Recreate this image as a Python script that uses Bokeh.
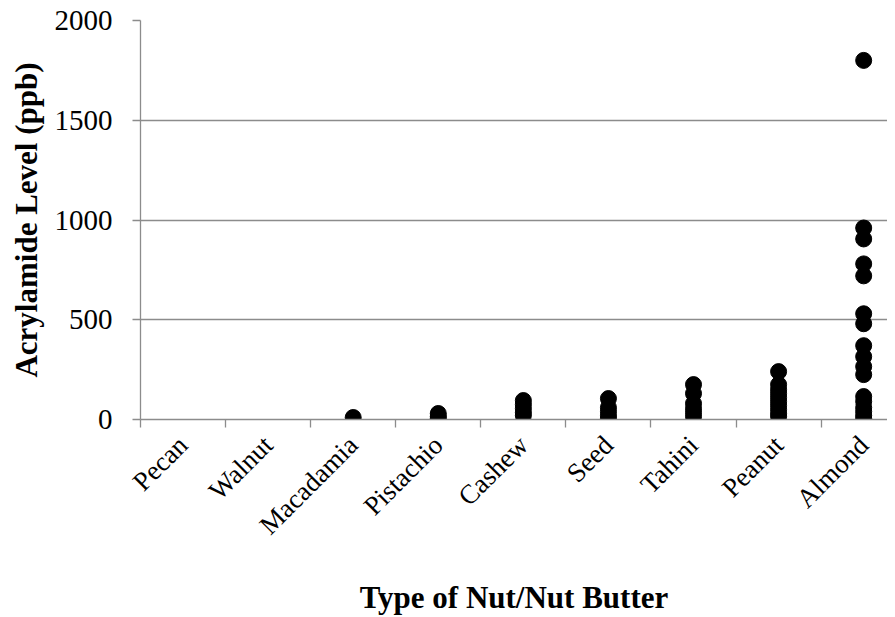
from bokeh.plotting import figure
from bokeh.models import Range1d, FixedTicker, CustomJSTickFormatter, ColumnDataSource
from bokeh.embed import file_html
from bokeh.resources import INLINE
import math

categories = ["Pecan", "Walnut", "Macadamia", "Pistachio", "Cashew", "Seed", "Tahini", "Peanut", "Almond"]
pecan = []
walnut = []
macadamia = [10]
pistachio = [30, 15, 5]
cashew = [95, 75, 55, 35, 20]
seed = [105, 60, 40, 20, 5]
tahini = [175, 130, 80, 55, 35, 15]
peanut = [240, 175, 150, 130, 110, 90, 70, 50, 30, 15]
almond = [1800, 960, 905, 780, 720, 530, 480, 370, 315, 265, 225, 115, 90, 60, 40, 20, 5]
y_ticks = [0, 500, 1000, 1500, 2000]

series = [pecan, walnut, macadamia, pistachio, cashew, seed, tahini, peanut, almond]
xs, ys = [], []
for i, vals in enumerate(series):
    for v in vals:
        xs.append(i + 0.5)
        ys.append(v)
src = ColumnDataSource(dict(x=xs, y=ys))

FONT = "Liberation Serif"
GRID = "#8c8c8c"

p = figure(width=887, height=617, x_range=Range1d(0, 8.78), y_range=Range1d(0, 2000),
           output_backend="svg", toolbar_location=None,
           min_border_left=140, min_border_top=20, min_border_right=0, min_border_bottom=196)
p.outline_line_color = None
p.background_fill_color = "white"
p.border_fill_color = "white"

p.scatter("x", "y", source=src, size=16, color="black", line_color="black")

p.xgrid.grid_line_color = None
p.ygrid.grid_line_color = GRID
p.ygrid.grid_line_width = 1.3
p.ygrid.ticker = FixedTicker(ticks=y_ticks)

# x axis
xa = p.xaxis[0]
xa.ticker = FixedTicker(ticks=[i + 0.5 for i in range(len(categories))],
                        minor_ticks=list(range(len(categories) + 1)))
xa.formatter = CustomJSTickFormatter(args=dict(names=categories),
                                     code="const i = Math.floor(tick); return (i >= 0 && i < names.length) ? names[i] : '';")
xa.major_label_orientation = math.pi / 4
xa.major_tick_line_color = None
xa.minor_tick_line_color = GRID
xa.minor_tick_line_width = 1.3
xa.minor_tick_out = 8
xa.minor_tick_in = 0
xa.axis_line_color = GRID
xa.axis_line_width = 1.3
xa.major_label_text_font = FONT
xa.major_label_text_font_size = "27px"
xa.major_label_text_color = "black"
xa.major_label_standoff = 13
xa.axis_label = "Type of Nut/Nut Butter"
xa.axis_label_text_font = FONT
xa.axis_label_text_font_style = "bold"
xa.axis_label_text_font_size = "31px"
xa.axis_label_text_color = "black"
xa.axis_label_standoff = 26

# y axis
ya = p.yaxis[0]
ya.ticker = FixedTicker(ticks=y_ticks)
ya.axis_line_color = GRID
ya.axis_line_width = 1.3
ya.major_tick_line_color = GRID
ya.major_tick_line_width = 1.3
ya.major_tick_out = 8
ya.major_tick_in = 0
ya.minor_tick_line_color = None
ya.major_label_text_font = FONT
ya.major_label_text_font_size = "29px"
ya.major_label_text_color = "black"
ya.major_label_standoff = 20
ya.axis_label = "Acrylamide Level (ppb)"
ya.axis_label_text_font = FONT
ya.axis_label_text_font_style = "bold"
ya.axis_label_text_font_size = "31px"
ya.axis_label_text_color = "black"
ya.axis_label_standoff = 8

open("out.html", "w").write(file_html(p, INLINE))
